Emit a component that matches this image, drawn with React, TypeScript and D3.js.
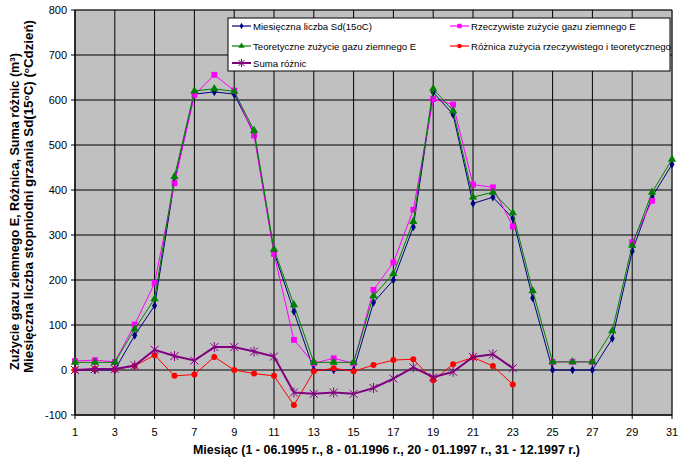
import * as d3 from "d3";

// Wartości (miesiące 1..31)
const months = d3.range(1, 32);
const sd = [0, 0, 0, 77, 143, 420, 613, 618, 613, 525, 262, 130, 0, 0, 0, 150, 200, 318, 617, 568, 370, 384, 337, 160, 0, 0, 0, 70, 264, 385, 457];
const rzecz: (number | null)[] = [20, 22, 18, 101, 193, 415, 611, 656, 621, 521, 258, 67, 15, 26, 15, 178, 239, 356, 602, 590, 412, 406, 319, null, 18, 18, 18, null, 284, 376, null];
const teor = [17, 17, 17, 91, 158, 430, 620, 625, 619, 532, 268, 145, 17, 17, 17, 165, 214, 330, 625, 576, 384, 395, 349, 176, 18, 18, 18, 87, 277, 395, 468];
const roznica = [0, 2, 1, 9, 33, -13, -10, 29, 0, -8, -13, -78, -3, 4, -3, 11, 22, 24, -23, 13, 28, 9, -32];
const suma = [0, 2, 2, 10, 45, 31, 21, 51, 51, 41, 30, -50, -53, -50, -53, -40, -19, 6, -16, -4, 29, 35, 4];

const yTicks = d3.range(-100, 801, 100);
const xTicks = d3.range(1, 32, 2);

type Series = { name: string; values: (number | null)[]; color: string; width: number; marker: string };

const series: Series[] = [
  { name: "Miesięczna liczba Sd(15oC)", values: sd, color: "#000080", width: 1, marker: "diamond" },
  { name: "Rzeczywiste zużycie gazu ziemnego E", values: rzecz, color: "#FF00FF", width: 1, marker: "square" },
  { name: "Teoretyczne zużycie gazu ziemnego E", values: teor, color: "#008000", width: 1, marker: "triangle" },
  { name: "Różnica zużycia rzeczywistego i teoretycznego", values: roznica, color: "#FF0000", width: 1, marker: "circle" },
  { name: "Suma różnic", values: suma, color: "#800080", width: 2, marker: "star" },
];

const W = 679, H = 461;
const plot = { left: 75, right: 672, top: 10, bottom: 415 };
const font = "'Liberation Sans', Arial, sans-serif";

function Marker({ kind, x, y, color, small = false }: { kind: string; x: number; y: number; color: string; small?: boolean }) {
  const k = small ? 0.75 : 1;
  if (kind === "star") {
    const r = 4 * k;
    return (
      <g stroke={color} strokeWidth={1}>
        <line x1={x - r} y1={y - r} x2={x + r} y2={y + r} />
        <line x1={x - r} y1={y + r} x2={x + r} y2={y - r} />
        <line x1={x} y1={y - r - 1} x2={x} y2={y + r + 1} />
      </g>
    );
  }
  const sym =
    kind === "diamond" ? d3.symbol(d3.symbolDiamond, 22 * k * k) :
    kind === "square" ? d3.symbol(d3.symbolSquare, 34 * k * k) :
    kind === "triangle" ? d3.symbol(d3.symbolTriangle, 30 * k * k) :
    d3.symbol(d3.symbolCircle, 28 * k * k);
  return <path d={sym() as string} transform={`translate(${x},${y})`} fill={color} />;
}

export default function App() {
  const x = d3.scaleLinear().domain([1, 31]).range([plot.left, plot.right]);
  const y = d3.scaleLinear().domain([-100, 800]).range([plot.bottom, plot.top]);

  const line = d3
    .line<number | null>()
    .defined((d) => d != null)
    .x((_, i) => x(months[i]))
    .y((d) => y(d as number));

  const legendRows = [
    { s: series[0], lx: 232, ly: 26 },
    { s: series[1], lx: 450, ly: 26 },
    { s: series[2], lx: 232, ly: 46 },
    { s: series[3], lx: 450, ly: 46 },
    { s: series[4], lx: 232, ly: 63 },
  ];

  return (
    <svg width={W} height={H} style={{ position: "absolute", left: 0, top: 0, background: "#fff" }}>
      <rect x={plot.left} y={plot.top} width={plot.right - plot.left} height={plot.bottom - plot.top} fill="#C0C0C0" stroke="#808080" />
      {/* siatka */}
      {yTicks.map((t) => (
        <g key={`y${t}`}>
          <line x1={plot.left} x2={plot.right} y1={y(t)} y2={y(t)} stroke="#000" />
          <line x1={plot.left - 4} x2={plot.left} y1={y(t)} y2={y(t)} stroke="#000" />
          <text x={plot.left - 8} y={y(t) + 4} textAnchor="end" fontSize="11" fontFamily={font}>{t}</text>
        </g>
      ))}
      {xTicks.map((t) => (
        <g key={`x${t}`}>
          <line x1={x(t)} x2={x(t)} y1={plot.top} y2={plot.bottom + 4} stroke="#000" />
          <text x={x(t)} y={plot.bottom + 21} textAnchor="middle" fontSize="11" fontFamily={font}>{t}</text>
        </g>
      ))}
      <line x1={plot.left} x2={plot.left} y1={plot.top} y2={plot.bottom} stroke="#000" />
      <line x1={plot.left} x2={plot.right} y1={plot.bottom} y2={plot.bottom} stroke="#000" />

      {/* serie */}
      {series.map((s) => (
        <g key={s.name}>
          <path d={line(s.values) as string} fill="none" stroke={s.color} strokeWidth={s.width} />
          {s.values.map((v, i) =>
            v == null ? null : <Marker key={i} kind={s.marker} x={x(months[i])} y={y(v)} color={s.color} />
          )}
        </g>
      ))}

      {/* legenda */}
      <rect x={228} y={18} width={442} height={53} fill="#fff" stroke="#000" />
      {legendRows.map(({ s, lx, ly }) => (
        <g key={s.name}>
          <line x1={lx} x2={lx + 19} y1={ly} y2={ly} stroke={s.color} strokeWidth={s.width === 2 ? 2 : 1.2} />
          <Marker kind={s.marker} x={lx + 9.5} y={ly} color={s.color} small />
          <text x={lx + 21} y={ly + 3.5} fontSize="9.6" fontFamily={font}>{s.name}</text>
        </g>
      ))}

      {/* tytuły osi */}
      <text transform="translate(19,211.5) rotate(-90)" textAnchor="middle" fontSize="12.5" fontWeight="bold" fontFamily={font} textLength={317} lengthAdjust="spacingAndGlyphs">
        Zużycie gazu ziemnego E, Różnica, Suma różnic (m<tspan dy={-4} fontSize="8">3</tspan><tspan dy={4}>)</tspan>
      </text>
      <text transform="translate(33,196.5) rotate(-90)" textAnchor="middle" fontSize="12.5" fontWeight="bold" fontFamily={font} textLength={353} lengthAdjust="spacingAndGlyphs">
        Miesięczna liczba stopniodni grzania Sd(15<tspan dy={-4} fontSize="8">o</tspan><tspan dy={4}>C) (</tspan><tspan dy={-4} fontSize="8">o</tspan><tspan dy={4}>Cdzień)</tspan>
      </text>
      <text x={386.5} y={454} textAnchor="middle" fontSize="12" fontWeight="bold" fontFamily={font} textLength={387} lengthAdjust="spacingAndGlyphs">
        Miesiąc (1 - 06.1995 r., 8 - 01.1996 r., 20 - 01.1997 r., 31 - 12.1997 r.)
      </text>
    </svg>
  );
}
